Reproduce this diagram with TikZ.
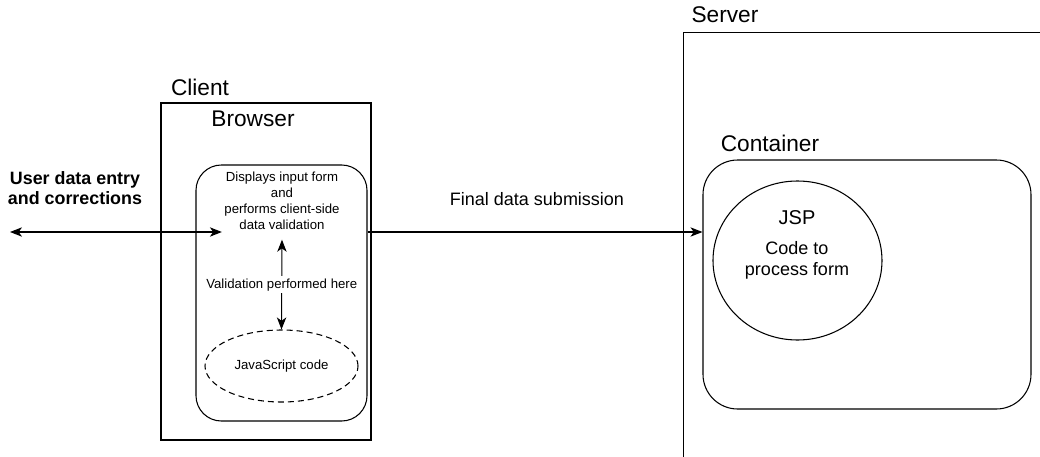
\documentclass[tikz,border=0pt]{standalone}
\usepackage{fontspec}
\setmainfont{Liberation Sans}
\usetikzlibrary{shapes.geometric, arrows.meta, positioning, calc}

\begin{document}
\begin{tikzpicture}[x=0.75pt, y=-0.75pt, line width=0.8pt,
  >={Stealth[length=9pt, width=7pt, inset=2.5pt]},
  box/.style={draw, rectangle, inner sep=0pt},
  title/.style={font=\fontsize{17}{20}\selectfont},
  small/.style={font=\fontsize{9.9}{12}\selectfont, align=center},
  mid/.style={font=\fontsize{13.5}{16}\selectfont, align=center}]
  \def\R{19pt}   % browser corner
  \def\Rc{26pt}  % container corner

  \useasboundingbox (0,0) rectangle (1040,457);
  \clip (0,0) rectangle (1040,457);

  % ---- Server (runs off the right and bottom edge) ----
  \node[box, anchor=north west, minimum width=300pt, minimum height=330pt]
    (server) at (683,32) {};
  \node[title] (serverlbl) at (725,15) {Server};

  % ---- Client ----
  \node[box, minimum width=157.5pt, minimum height=252.75pt]
    (client) at (266,271.5) {};
  \node[title] (clientlbl) at (200,87) {Client};

  % ---- Browser ----
  \node[box, rounded corners=\R, minimum width=128.25pt, minimum height=192pt]
    (browser) at (281.5,293) {};
  \node[title] (browserlbl) at (253,119) {Browser};
  \node[small, inner sep=0pt] (disp) at (282,201)
    {Displays input form\\and\\performs client-side\\data validation};
  \node[small, draw, ellipse, dash pattern=on 4.5pt off 3pt, inner sep=0pt,
    minimum width=114.75pt, minimum height=54pt] (js) at (281.5,366)
    {JavaScript code};

  % ---- Container ----
  \node[box, rounded corners=\Rc, minimum width=246pt, minimum height=186.75pt]
    (container) at (867,284.5) {};
  \node[title] (containerlbl) at (770,143) {Container};
  \node[draw, ellipse, inner sep=0pt, minimum width=126.75pt,
    minimum height=119.25pt] (jsp) at (797.5,260.5) {};
  \node[font=\fontsize{15}{18}\selectfont] (jsplbl) at (797,218) {JSP};
  \node[mid] (jspcode) at (797,260.5) {Code to\\process form};

  % ---- User side ----
  \coordinate (user) at (10,232);
  \node[font=\bfseries\fontsize{13.4}{15}\selectfont, align=center]
    (userlbl) at (75,188) {User data entry\\and corrections};

  % ---- Arrows ----
  \draw[<->] (user) -- ([xshift=-1.5pt]user -| disp.west);
  \draw[<->] ([yshift=-7pt]disp.south) -- (js.north)
    node[midway, fill=white, small, inner sep=2pt] (vallbl)
    {Validation performed here};
  \draw[->] (user -| browser.east) -- (user -| container.west);
  \node[mid] (finallbl) at (537,199) {Final data submission};
\end{tikzpicture}
\end{document}
